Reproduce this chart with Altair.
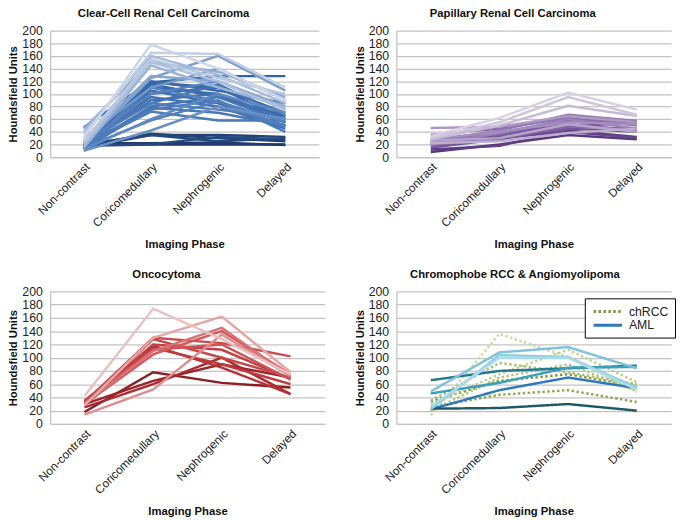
import altair as alt
import pandas as pd

phases = ["Non-contrast", "Coricomedullary", "Nephrogenic", "Delayed"]

# Clear-cell RCC, ordered dark -> light
ccrcc_lines = [
    [20, 20, 20, 20], [22, 22, 23, 19], [18, 37, 30, 25], [20, 35, 35, 32],
    [15, 35, 25, 30], [18, 20, 32, 28],
    [16, 118, 128, 128], [20, 118, 110, 60], [15, 115, 95, 65], [47, 120, 105, 85],
    [18, 110, 100, 55], [22, 105, 85, 50], [14, 100, 110, 70], [20, 95, 80, 45],
    [18, 90, 100, 60], [25, 85, 115, 65], [15, 80, 95, 55], [12, 78, 70, 50],
    [20, 75, 90, 40], [18, 72, 58, 58], [22, 85, 75, 62], [15, 58, 88, 55],
    [16, 110, 88, 48], [19, 100, 120, 75],
    [12, 60, 100, 70], [10, 42, 80, 60], [30, 110, 140, 90], [20, 125, 160, 105],
    [25, 128, 120, 80], [45, 150, 135, 95], [15, 145, 110, 80], [40, 160, 130, 85],
    [20, 150, 120, 75], [25, 155, 125, 100], [35, 165, 163, 110], [30, 178, 140, 90],
]

# Papillary RCC, ordered dark -> light
prcc_lines = [
    [8, 20, 35, 28], [12, 18, 42, 32], [20, 30, 40, 30], [25, 32, 48, 55],
    [15, 28, 45, 40], [22, 35, 52, 42], [30, 35, 58, 57], [18, 30, 48, 45],
    [35, 45, 62, 50], [25, 42, 67, 57], [20, 38, 60, 45], [28, 40, 55, 52],
    [46, 48, 65, 55], [26, 30, 52, 40], [22, 25, 38, 45], [28, 50, 81, 65],
    [30, 55, 95, 67], [33, 62, 102, 75],
]

# Oncocytoma, ordered dark -> light
onco_lines = [
    [18, 78, 62, 55], [30, 65, 90, 70], [25, 60, 100, 45], [35, 118, 85, 45],
    [28, 115, 90, 60], [32, 120, 112, 68], [30, 128, 100, 70], [33, 130, 122, 102],
    [32, 112, 120, 67], [30, 105, 140, 75], [30, 110, 145, 72], [14, 52, 135, 72],
    [28, 130, 162, 78], [42, 174, 128, 75],
]

# Chromophobe RCC (dotted) and angiomyolipoma (solid)
chrcc_names = ["chRCC", "chRCC b", "chRCC c", "chRCC d", "chRCC e", "chRCC f"]
chrcc_lines = [
    [34, 65, 75, 57], [13, 136, 101, 48], [35, 92, 78, 60],
    [30, 75, 112, 63], [25, 44, 51, 33], [20, 70, 90, 50],
]
aml_names = ["AML", "AML b", "AML c", "AML d", "AML e", "AML f", "AML g"]
aml_lines = [
    [22, 51, 70, 54], [23, 24, 30, 20], [66, 80, 84, 88], [46, 62, 85, 86],
    [49, 108, 116, 84], [22, 104, 101, 55], [26, 100, 100, 52],
]

# ---------- styles ----------
FONT = "Liberation Sans"
GRID = "#c3c3c3"
chrcc_colors = ["#7f9a3c", "#cbd8a4", "#a9bd72", "#bfd08e", "#8fa94c", "#b3c784"]
aml_colors = ["#2f78bd", "#1d5a69", "#24798f", "#3a9fbd", "#7ec3da", "#8fcde0", "#acdbe9"]


def long_table(lines, names=None):
    rows = []
    for i, vals in enumerate(lines):
        name = names[i] if names else f"L{i:02d}"
        for j, (ph, v) in enumerate(zip(phases, vals)):
            rows.append({"line": name, "shade": i, "step": j, "phase": ph, "hu": v})
    return pd.DataFrame(rows)


def x_enc():
    return alt.X(
        "phase:N", sort=phases,
        scale=alt.Scale(domain=phases, padding=0.5),
        axis=alt.Axis(title="Imaging Phase", labelAngle=-45, grid=False, ticks=False,
                      domain=True, domainColor=GRID, domainWidth=1.3,
                      labelPadding=4, titlePadding=10),
    )


def y_enc():
    return alt.Y(
        "hu:Q", scale=alt.Scale(domain=[0, 200], nice=False, zero=True),
        axis=alt.Axis(title="Houndsfield Units", values=list(range(0, 201, 20)),
                      grid=True, gridColor=GRID, gridWidth=1.3, ticks=False,
                      domain=True, domainColor=GRID, domainWidth=1.3,
                      labelPadding=8, titlePadding=3),
    )


def ptitle(text):
    return alt.Title(text, font=FONT, fontSize=11.5, fontWeight="bold", color="#111111",
                     anchor="middle", frame="bounds", offset=5.5)


def shaded_panel(lines, title, stops, colors, w, h):
    df = long_table(lines)
    return alt.Chart(df, title=ptitle(title)).mark_line(strokeWidth=2.5).encode(
        x=x_enc(), y=y_enc(),
        color=alt.Color("shade:Q", scale=alt.Scale(domain=stops, range=colors, interpolate="rgb"),
                        legend=None),
        detail="line:N",
        order=alt.Order("step:Q"),
    ).properties(width=w, height=h)


n1 = len(ccrcc_lines) - 1
p1 = shaded_panel(ccrcc_lines, "Clear-Cell Renal Cell Carcinoma",
                  [0, 5, 6, 23, n1], ["#1d3966", "#264a80", "#3164a6", "#5582bf", "#cdd6e8"], 274, 129)
n2 = len(prcc_lines) - 1
p2 = shaded_panel(prcc_lines, "Papillary Renal Cell Carcinoma",
                  [0, 8, n2], ["#58377f", "#8a6cab", "#d8d0e4"], 280, 129)
n3 = len(onco_lines) - 1
p3 = shaded_panel(onco_lines, "Oncocytoma",
                  [0, 3, 9, n3], ["#8a1f24", "#b83236", "#d2595c", "#ebc0c0"], 280, 135)

df4 = pd.concat([long_table(chrcc_lines, chrcc_names), long_table(aml_lines, aml_names)])
names4 = chrcc_names + aml_names
dash4 = [[2.5, 2.5]] * len(chrcc_names) + [[1, 0]] * len(aml_names)
leg = alt.Legend(title=None, values=["chRCC", "AML"], orient="none", legendX=192, legendY=7,
                 symbolType="M-2.4,0L2.4,0", symbolSize=144, symbolStrokeWidth=3,
                 labelFont=FONT, labelFontSize=12.5, labelColor="#222222", labelOffset=14,
                 symbolOffset=10, rowPadding=0, padding=6, strokeColor="#000000",
                 fillColor="#ffffff", labelLimit=200)
p4 = alt.Chart(df4, title=ptitle("Chromophobe RCC & Angiomyolipoma")).mark_line(strokeWidth=2.5).encode(
    x=x_enc(), y=y_enc(),
    color=alt.Color("line:N", scale=alt.Scale(domain=names4, range=chrcc_colors + aml_colors), legend=leg),
    strokeDash=alt.StrokeDash("line:N", scale=alt.Scale(domain=names4, range=dash4), legend=leg),
    order=alt.Order("step:Q"),
).properties(width=280, height=135)

top = alt.hconcat(p1, p2, spacing=36).resolve_scale(color="independent", strokeDash="independent") \
    .resolve_legend(color="independent", strokeDash="independent")
bottom = alt.hconcat(p3, p4, spacing=30).resolve_scale(color="independent", strokeDash="independent") \
    .resolve_legend(color="independent", strokeDash="independent")
chart = alt.vconcat(top, bottom, spacing=19).resolve_scale(
    color="independent", strokeDash="independent"
).resolve_legend(color="independent", strokeDash="independent").properties(
    padding={"left": 0, "top": -5, "right": 0, "bottom": 0}
).configure_view(stroke=None).configure_axis(
    labelFont=FONT, titleFont=FONT, labelColor="#222222", titleColor="#111111",
    titleFontWeight="bold",
).configure_axisX(labelFontSize=12, titleFontSize=11.5).configure_axisY(
    labelFontSize=12.5, titleFontSize=11.5
)

chart.save("out.html", embed_options={"renderer": "svg", "actions": False})
